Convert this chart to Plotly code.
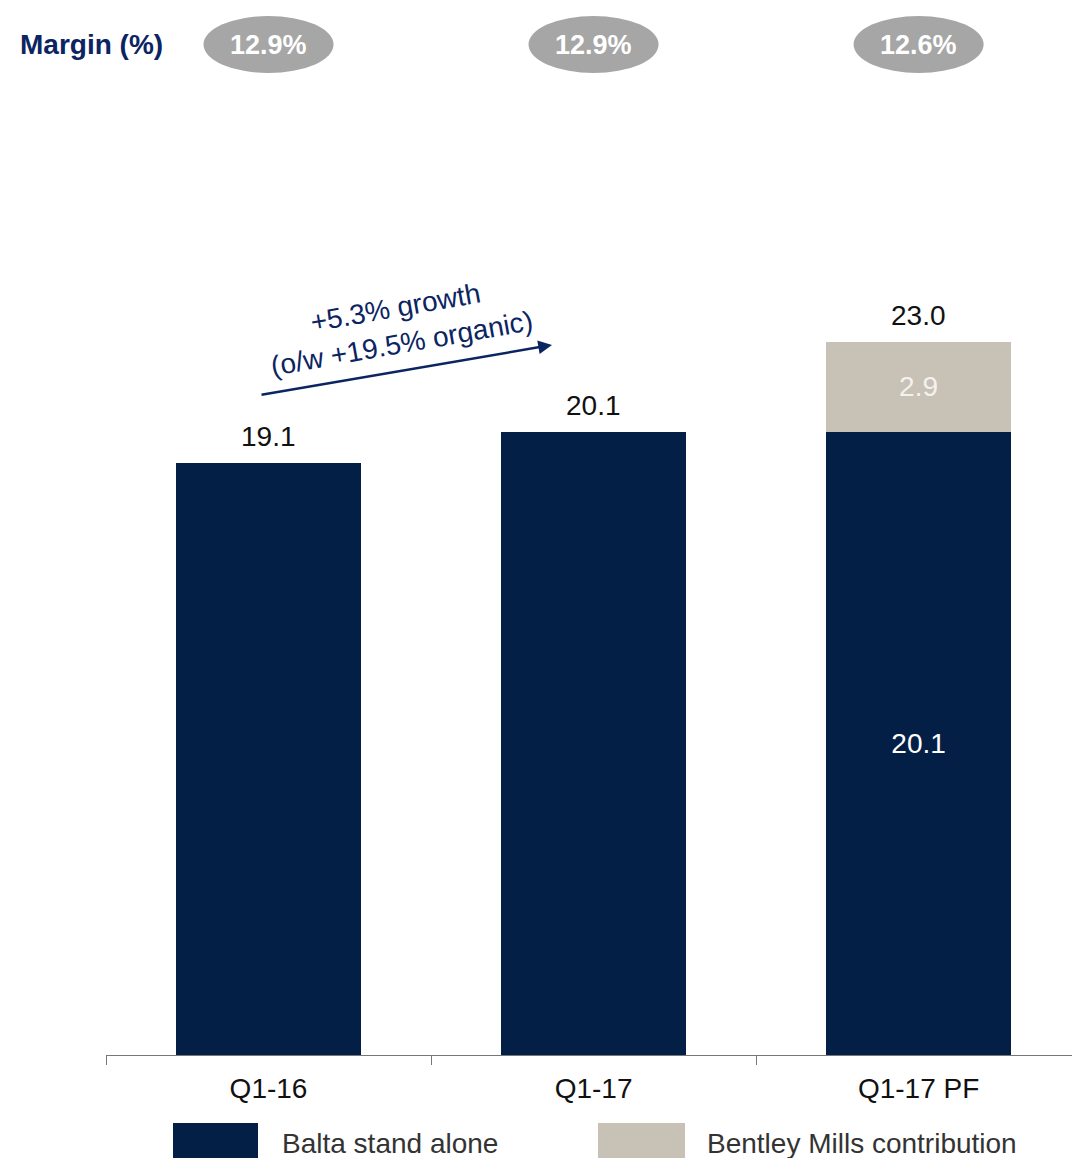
import plotly.graph_objects as go

# ---- data ----
categories = ["Q1-16", "Q1-17", "Q1-17 PF"]
balta_stand_alone = [19.1, 20.1, 20.1]
bentley_mills = [0, 0, 2.9]
margins = ["12.9%", "12.9%", "12.6%"]
growth_text = "+5.3% growth<br>(o/w +19.5% organic)"
series_names = ["Balta stand alone", "Bentley Mills contribution"]

NAVY = "#041F45"
BEIGE = "#C7C1B6"
TITLE_NAVY = "#0B2462"
FONT = "Liberation Sans, Arial, sans-serif"
FS = 28

W, H = 1072, 1158
ML, MR, MT, MB = 106, 0, 60, 103
PW, PH = W - ML - MR, H - MT - MB

def px(x):  # pixel x -> paper
    return (x - ML) / PW

def py(y):  # pixel y -> paper
    return (H - MB - y) / PH

totals = [a + b for a, b in zip(balta_stand_alone, bentley_mills)]

fig = go.Figure()
fig.add_trace(go.Bar(
    x=categories, y=balta_stand_alone, name=series_names[0],
    marker=dict(color=NAVY, line=dict(width=0)),
    text=["" if b == 0 else f"{a:.1f}" for a, b in zip(balta_stand_alone, bentley_mills)],
    textposition="inside", insidetextanchor="middle",
    textfont=dict(color="white", size=FS, family=FONT),
))
fig.add_trace(go.Bar(
    x=categories, y=bentley_mills, name=series_names[1],
    marker=dict(color=BEIGE, line=dict(width=0)),
    text=["" if b == 0 else f"{b:.1f}" for b in bentley_mills],
    textposition="inside", insidetextanchor="middle",
    textfont=dict(color="#F4F2EE", size=FS, family=FONT),
))

annotations = []
shapes = []
# totals above bars
for c, t in zip(categories, totals):
    annotations.append(dict(x=c, y=t, xref="x", yref="y", text=f"{t:.1f}",
                            showarrow=False, xanchor="center", yanchor="bottom", yshift=9,
                            font=dict(size=FS, color="#111111", family=FONT)))

# margin ellipses
for i, m in enumerate(margins):
    shapes.append(dict(type="circle", xref="x", yref="paper",
                       x0=i - 0.2, x1=i + 0.2, y0=py(73), y1=py(16),
                       fillcolor="#A6A6A6", line=dict(width=0), layer="above"))
    annotations.append(dict(x=i, y=py(45), xref="x", yref="paper", text=f"<b>{m}</b>",
                            xanchor="center", yanchor="middle",
                            showarrow=False, font=dict(size=27, color="white", family=FONT)))

annotations.append(dict(x=px(18), y=py(44), xref="paper", yref="paper",
                        xanchor="left", yanchor="middle",
                        text="<b>Margin (%)</b>", showarrow=False,
                        font=dict(size=FS, color=TITLE_NAVY, family=FONT)))

# growth arrow
annotations.append(dict(x=px(552), y=py(345), xref="paper", yref="paper",
                        ax=260 - 552, ay=395 - 345, axref="pixel", ayref="pixel",
                        text="", showarrow=True, arrowhead=2, arrowsize=1.1,
                        arrowwidth=2.5, arrowcolor=TITLE_NAVY))
annotations.append(dict(x=px(398), y=py(326), xref="paper", yref="paper",
                        xanchor="center", yanchor="middle",
                        text=growth_text, showarrow=False, textangle=-10,
                        font=dict(size=FS, color=TITLE_NAVY, family=FONT)))

# custom legend
leg = [(173, 258, 280, NAVY, series_names[0]), (598, 685, 705, BEIGE, series_names[1])]
for x0, x1, tx, col, name in leg:
    shapes.append(dict(type="rect", xref="paper", yref="paper",
                       x0=px(x0), x1=px(x1), y0=py(1175), y1=py(1123),
                       fillcolor=col, line=dict(width=0)))
    annotations.append(dict(x=px(tx), y=py(1143), xref="paper", yref="paper",
                            xanchor="left", yanchor="middle", text=name, showarrow=False,
                            font=dict(size=FS, color="#333333", family=FONT)))

fig.update_layout(
    width=W, height=H, barmode="stack", bargap=0.43,
    margin=dict(l=ML, r=MR, t=MT, b=MB),
    plot_bgcolor="white", paper_bgcolor="white",
    showlegend=False,
    font=dict(family=FONT),
    shapes=shapes, annotations=annotations,
    xaxis=dict(type="category", range=[-0.5, 2.472], tickson="boundaries",
               ticks="outside", ticklen=9, tickcolor="#777777", tickwidth=1,
               showline=True, linecolor="#777777", linewidth=1, ticklabelstandoff=8,
               showgrid=False, tickfont=dict(size=FS, color="#111111", family=FONT)),
    yaxis=dict(range=[0, PH / 31.0], visible=False, showgrid=False, zeroline=False),
)

fig.write_html("out.html")
